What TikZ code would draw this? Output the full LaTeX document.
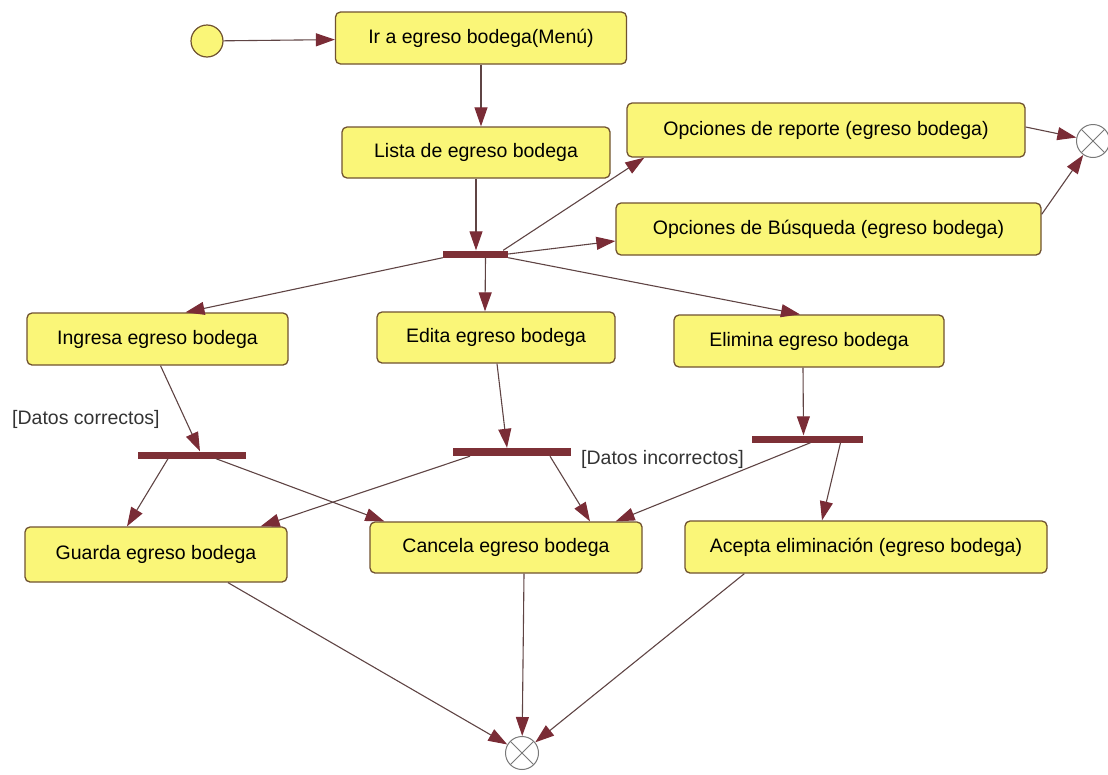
\documentclass[tikz,border=0pt]{standalone}
\usepackage{fontspec}
\setmainfont{Liberation Sans}
\usetikzlibrary{arrows.meta,calc}

\definecolor{boxfill}{RGB}{250,246,120}
\definecolor{boxline}{RGB}{112,82,48}
\definecolor{flow}{RGB}{95,68,68}
\definecolor{tip}{RGB}{122,44,54}
\definecolor{barfill}{RGB}{125,48,54}
\definecolor{finalline}{RGB}{120,120,120}

\begin{document}
\begin{tikzpicture}[x=1pt,y=-1pt,
  act/.style={draw=boxline, line width=1.3pt, fill=boxfill, rounded corners=5pt,
    inner sep=0pt, font=\fontsize{19.5}{22}\selectfont},
  syncbar/.style={fill=barfill, draw=none, inner sep=0pt, minimum height=7pt},
  initial/.style={circle, draw=boxline, line width=1.2pt, fill=boxfill, minimum size=32pt, inner sep=0pt},
  final/.style={circle, draw=finalline, line width=1pt, fill=white, minimum size=33pt, inner sep=0pt,
    path picture={\draw[finalline, line width=1pt]
      (path picture bounding box.north west) -- (path picture bounding box.south east)
      (path picture bounding box.north east) -- (path picture bounding box.south west);}},
  flowline/.style={draw=flow, line width=1.1pt, -{Triangle[length=19pt,width=13pt,color=tip]}},
  guard/.style={inner sep=0pt, font=\fontsize{19.5}{22}\selectfont, text=black!80}
]
\useasboundingbox (0,0) rectangle (1108,774);

% states
\node[initial] (start) at (207,41) {};
\node[act, minimum width=291pt, minimum height=52pt] (ir) at (481,38) {Ir a egreso bodega(Menú)};
\node[act, minimum width=268pt, minimum height=51pt] (lista) at (476,152.5) {Lista de egreso bodega};
\node[act, minimum width=398pt, minimum height=54pt] (rep) at (826,130) {Opciones de reporte (egreso bodega)};
\node[act, minimum width=425pt, minimum height=52pt] (bus) at (828.5,229) {Opciones de Búsqueda (egreso bodega)};
\node[final] (endA) at (1093,141) {};

\node[syncbar, minimum width=65pt] (fork1) at (475.5,254) {};

\node[act, minimum width=261pt, minimum height=52pt] (ing) at (157.5,339) {Ingresa egreso bodega};
\node[act, minimum width=238pt, minimum height=51pt] (edi) at (496,337.5) {Edita egreso bodega};
\node[act, minimum width=270pt, minimum height=52pt] (eli) at (809,341) {Elimina egreso bodega};

\node[syncbar, minimum width=108pt] (fork2) at (192,455) {};
\node[syncbar, minimum width=118pt, minimum height=8pt] (fork3) at (512,452) {};
\node[syncbar, minimum width=111pt] (fork4) at (807.5,439) {};

\node[act, minimum width=262pt, minimum height=55pt] (gua) at (156,554.5) {Guarda egreso bodega};
\node[act, minimum width=272pt, minimum height=51pt] (can) at (506,547.5) {Cancela egreso bodega};
\node[act, minimum width=362pt, minimum height=52pt] (ace) at (866,547) {Acepta eliminación (egreso bodega)};

\node[final] (endB) at (522,753) {};

% guard labels
\node[guard, anchor=west] (lblok) at (12,419) {[Datos correctos]};
\node[guard, anchor=west] (lblbad) at (581,459) {[Datos incorrectos]};

% transitions
\draw[flowline] (start) -- (ir);
\draw[flowline] (ir.south) -- (ir.south |- lista.north);
\draw[flowline] (lista.south) -- (lista.south |- fork1.north);

\draw[flowline] ($(fork1.north east)+(-5,0)$) -- ($(rep.south west)+(18,0)$);
\draw[flowline] (fork1.east) -- ($(bus.west)+(0,12)$);
\draw[flowline] ($(rep.east)+(0,-3)$) -- (endA);
\draw[flowline] ($(bus.north east)+(0,12)$) -- (endA);

\draw[flowline] (fork1.south west) -- ($(ing.north)+(28,0)$);
\draw[flowline] ($(fork1.south)+(10,0)$) -- ($(edi.north)+(-11,0)$);
\draw[flowline] (fork1.south east) -- ($(eli.north)+(-9,0)$);

\draw[flowline] ($(ing.south)+(3,0)$) -- ($(fork2.north)+(8,0)$);
\draw[flowline] ($(fork2.south)+(-24,0)$) -- ($(gua.north)+(-29,0)$);
\draw[flowline] ($(fork2.south)+(24,0)$) -- ($(can.north west)+(15,0)$);

\draw[flowline] ($(edi.south)+(1,0)$) -- ($(fork3.north)+(-5,0)$);
\draw[flowline] ($(fork3.south)+(-42,0)$) -- ($(gua.north east)+(-27,0)$);
\draw[flowline] ($(fork3.south)+(38,0)$) -- ($(can.north)+(84,0)$);

\draw[flowline] ($(eli.south)+(-6,0)$) -- ($(fork4.north)+(-4,0)$);
\draw[flowline] ($(fork4.south)+(3,0)$) -- ($(can.north east)+(-27,0)$);
\draw[flowline] ($(fork4.south)+(33,0)$) -- ($(ace.north)+(-44,0)$);

\draw[flowline] ($(gua.south)+(72,0)$) -- (endB);
\draw[flowline] ($(can.south)+(18,0)$) -- (endB);
\draw[flowline] ($(ace.south west)+(60,0)$) -- (endB);
\end{tikzpicture}
\end{document}
